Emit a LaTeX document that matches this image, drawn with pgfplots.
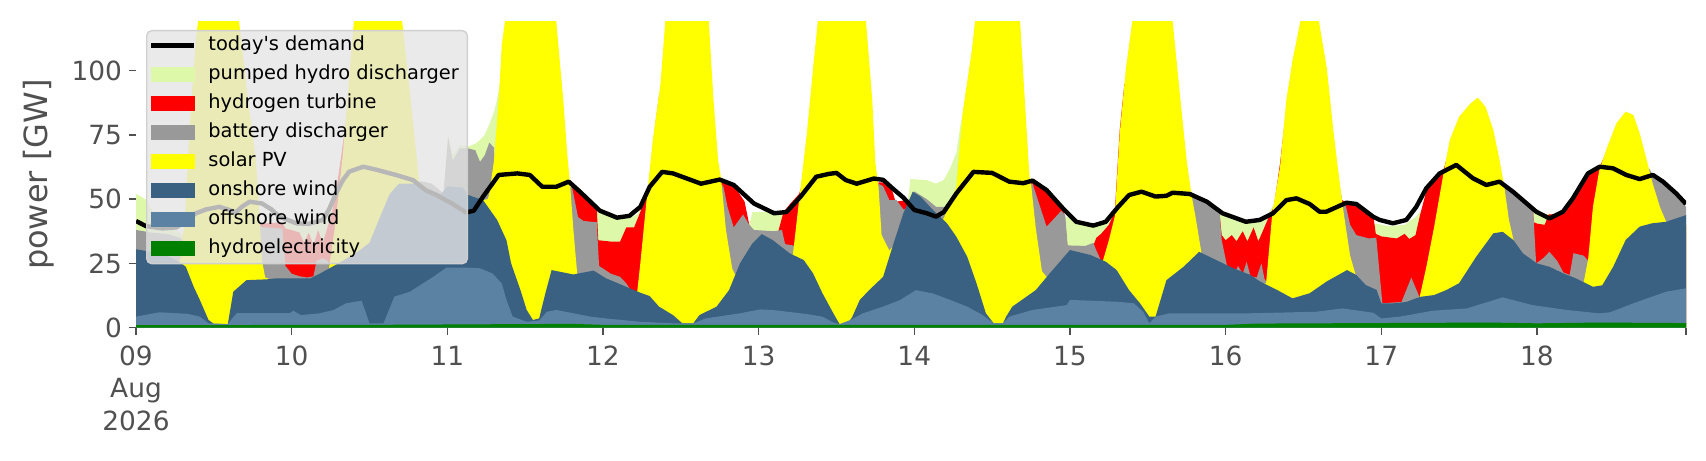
\documentclass[border=0pt]{standalone}
\usepackage{fontspec}
\setmainfont{DejaVu Sans}
\usepackage{pgfplots}
\pgfplotsset{compat=1.18}
\definecolor{cPHS}{RGB}{220,248,168}
\definecolor{cH2}{RGB}{255,0,0}
\definecolor{cBAT}{RGB}{153,153,153}
\definecolor{cPV}{RGB}{255,255,0}
\definecolor{cON}{RGB}{59,97,130}
\definecolor{cOFF}{RGB}{91,130,163}
\definecolor{cHYD}{RGB}{0,128,0}
\definecolor{txtgray}{RGB}{80,80,80}
\definecolor{leggray}{RGB}{229,229,229}
\definecolor{legedge}{RGB}{208,208,208}
\begin{document}
\begin{tikzpicture}
\useasboundingbox (0,0) rectangle (853pt,230pt);
\begin{axis}[
  at={(68pt,66.15pt)}, anchor=south west,
  width=775pt, height=153pt, scale only axis,
  xmin=0, xmax=9.958, ymin=0, ymax=119,
  axis line style={draw=none},
  xtick={0,1,2,3,4,5,6,7,8,9,9.958},
  xticklabels={{09\\Aug\\2026},10,11,12,13,14,15,16,17,18,{}},
  ytick={0,25,50,75,100},
  tick align=outside, xtick pos=left, ytick pos=left,
  major tick length=3.5pt,
  tick style={draw=txtgray, line width=0.7pt},
  tick label style={font=\fontsize{13.2}{16.2}\selectfont, color=txtgray},
  xticklabel style={align=center, yshift=-2pt},
  /pgf/number format/assume math mode=true,
  ylabel={power [GW]},
  every axis y label/.style={at={(axis description cs:-0.0629,0.5)}, rotate=90, anchor=center, font=\fontsize{16}{19}\selectfont, color=txtgray},
  legend cell align=left,
  legend style={at={(axis description cs:0.00645,0.973)}, anchor=north west,
    fill=leggray, fill opacity=0.8, draw=legedge, draw opacity=1, text opacity=1,
    rounded corners=2.5pt, line width=0.7pt,
    font=\fontsize{9.7}{11}\selectfont,
    inner xsep=1pt, inner ysep=3pt, row sep=5.5pt,
    nodes={inner xsep=3.25pt, inner ysep=0pt, text height=7pt, text depth=2pt}},
]
\addlegendimage{legend image code/.code={\draw[black, line width=2.5pt, draw opacity=1, sharp corners] (0pt,0pt) -- (21.5pt,0pt); \path (25pt,0pt);}}
\addlegendentry{today\textquotesingle s demand}
\addlegendimage{legend image code/.code={\fill[cPHS, fill opacity=1, sharp corners] (0pt,-3.5pt) rectangle (21.5pt,3.5pt); \path (25pt,0pt);}}
\addlegendentry{pumped hydro discharger}
\addlegendimage{legend image code/.code={\fill[cH2, fill opacity=1, sharp corners] (0pt,-3.5pt) rectangle (21.5pt,3.5pt); \path (25pt,0pt);}}
\addlegendentry{hydrogen turbine}
\addlegendimage{legend image code/.code={\fill[cBAT, fill opacity=1, sharp corners] (0pt,-3.5pt) rectangle (21.5pt,3.5pt); \path (25pt,0pt);}}
\addlegendentry{battery discharger}
\addlegendimage{legend image code/.code={\fill[cPV, fill opacity=1, sharp corners] (0pt,-3.5pt) rectangle (21.5pt,3.5pt); \path (25pt,0pt);}}
\addlegendentry{solar PV}
\addlegendimage{legend image code/.code={\fill[cON, fill opacity=1, sharp corners] (0pt,-3.5pt) rectangle (21.5pt,3.5pt); \path (25pt,0pt);}}
\addlegendentry{onshore wind}
\addlegendimage{legend image code/.code={\fill[cOFF, fill opacity=1, sharp corners] (0pt,-3.5pt) rectangle (21.5pt,3.5pt); \path (25pt,0pt);}}
\addlegendentry{offshore wind}
\addlegendimage{legend image code/.code={\fill[cHYD, fill opacity=1, sharp corners] (0pt,-3.5pt) rectangle (21.5pt,3.5pt); \path (25pt,0pt);}}
\addlegendentry{hydroelectricity}

% pumped hydro discharger (cumulative top)
\addplot[fill=cPHS, draw=none, forget plot] coordinates {
(0,52) (0.06,50) (0.12,44) (0.2,40) (0.27,37.5) (0.3,36) (0.5,30) (0.78,30) (0.94,40) (0.96,41) (1.05,41) (1.15,41) (1.22,42) (1.26,46) (1.28,50) (1.31,58) (1.4,50) (1.9,50) (1.975,52) (2.005,75) (2.035,67) (2.08,71) (2.134,70.5) (2.18,71.5) (2.21,73) (2.24,75) (2.27,79) (2.30,84) (2.317,88) (2.333,93) (2.345,100) (2.36,108) (2.5,40) (2.96,45) (2.975,44.5) (3.05,44) (3.11,43) (3.18,43) (3.22,44) (3.24,46) (3.26,48) (3.3,45) (3.5,40) (3.94,40) (3.96,45) (4.05,45) (4.14,45.5) (4.16,44) (4.3,40) (4.6,40) (4.95,45) (4.975,57.8) (5.08,57.4) (5.14,56) (5.19,57.5) (5.23,62) (5.27,68) (5.30,80) (5.33,88) (5.5,40) (5.96,43) (5.985,43) (6.04,41.5) (6.15,40) (6.23,41.5) (6.26,44) (6.29,43) (6.5,40) (6.95,40) (6.962,44.5) (7.05,42.5) (7.14,40.6) (7.22,41.2) (7.26,43) (7.31,48) (7.35,55) (7.5,40) (7.95,40) (7.965,40.5) (8.05,39.5) (8.15,40) (8.22,43) (8.25,45) (8.27,46) (8.30,45) (8.6,40) (8.97,40) (8.975,46) (9.0,45) (9.05,43.5) (9.08,44.5) (9.10,42) (9.5,40) (9.958,40)
} \closedcycle;
% hydrogen turbine
\addplot[fill=cH2, draw=none, forget plot] coordinates {
(0,37) (0.29,27) (0.5,30) (0.78,40) (0.81,40.5) (0.94,41) (0.96,38.5) (1.0,38) (1.05,37) (1.08,33) (1.11,37) (1.14,32) (1.17,38) (1.2,33) (1.23,39) (1.26,45) (1.29,55) (1.33,72) (1.36,85) (1.5,40) (2.0,45) (2.5,40) (2.78,52) (2.80,56) (2.84,53.5) (2.875,51) (2.96,46.5) (2.97,34) (3.05,33.5) (3.11,33.5) (3.15,39) (3.20,39) (3.24,45) (3.28,53) (3.30,56) (3.33,76) (3.36,90) (3.5,40) (3.75,55) (3.77,57.5) (3.84,55.5) (3.91,49) (3.94,40) (3.97,37) (4.12,36) (4.16,45) (4.20,48) (4.26,52) (4.30,60) (4.5,40) (4.76,50) (4.77,56.5) (4.80,56.5) (4.84,55.5) (4.86,53) (4.88,49) (5.0,50) (5.2,45) (5.4,40) (5.74,55) (5.755,57) (5.85,53.5) (5.945,47) (5.965,44) (5.985,31) (6.15,32) (6.17,35) (6.2,36.5) (6.25,40) (6.288,45) (6.32,77) (6.35,95) (6.5,40) (6.77,50) (6.962,44) (6.975,36) (7.0,34) (7.04,36) (7.07,33.6) (7.11,37.5) (7.14,33.6) (7.18,39) (7.21,33.6) (7.235,37) (7.27,42) (7.31,47) (7.35,64) (7.38,80) (7.5,40) (7.74,50) (7.765,49) (7.84,48) (7.90,45.5) (7.95,43) (7.965,36.5) (8.0,35.5) (8.1,34.7) (8.15,36.5) (8.18,34.5) (8.22,36) (8.25,44) (8.289,53) (8.34,57.5) (8.396,60.5) (8.44,70) (8.6,40) (8.77,55) (8.975,46) (8.98,41) (9.0,40.5) (9.05,40) (9.075,44) (9.167,44.5) (9.231,49.5) (9.328,59.5) (9.40,62) (9.45,69) (9.6,40) (9.958,40)
} \closedcycle;
% battery discharger
\addplot[fill=cBAT, draw=none, forget plot] coordinates {
(0,38) (0.1,37) (0.2,36.5) (0.28,35) (0.30,34) (0.5,20) (0.76,40) (0.79,40) (0.81,39) (0.83,39) (0.94,38.5) (0.96,24) (1.0,21) (1.05,20) (1.10,19.5) (1.14,20) (1.16,26) (1.2,27) (1.23,26) (1.25,24) (1.28,24) (1.3,20) (1.7,50) (1.83,57) (1.9,56) (1.96,53) (1.975,52) (2.005,74) (2.035,65) (2.08,69.7) (2.134,69.7) (2.18,69) (2.21,64.5) (2.24,67) (2.27,72) (2.30,70) (2.32,50) (2.5,30) (2.76,50) (2.79,54.5) (2.80,55) (2.84,43) (2.875,41.5) (2.96,41) (2.975,24) (3.05,21) (3.11,19.8) (3.15,17.2) (3.19,13.5) (3.3,10) (3.6,10) (3.75,50) (3.77,56) (3.80,47) (3.84,39) (3.90,44) (3.94,40) (3.97,38) (4.1,37.5) (4.15,38) (4.17,32.5) (4.22,32) (4.26,31) (4.4,20) (4.6,20) (4.76,50) (4.77,56) (4.80,55) (4.84,49.6) (4.886,49.6) (4.93,46) (4.95,46) (5.0,53) (5.08,50) (5.14,47) (5.2,47) (5.24,46) (5.3,40) (5.6,30) (5.74,56) (5.76,56) (5.85,39.3) (5.945,45.5) (5.97,43.5) (5.985,32) (6.1,31.8) (6.15,33) (6.17,30) (6.2,26) (6.3,20) (6.6,20) (6.76,55) (6.78,52.5) (6.85,50) (6.92,47) (6.962,44) (6.975,34) (7.02,21) (7.05,20) (7.08,24) (7.11,21) (7.135,25.6) (7.16,20) (7.20,19.5) (7.23,25) (7.25,19) (7.27,17) (7.4,10) (7.6,20) (7.72,60) (7.75,49) (7.77,48) (7.80,40) (7.84,36) (7.92,34.7) (7.968,35) (8.007,9.5) (8.13,10) (8.193,19.5) (8.245,12) (8.3,10) (8.6,20) (8.76,60) (8.79,56) (8.846,52.5) (8.92,49.5) (8.975,46.5) (8.995,25) (9.04,27) (9.08,29.5) (9.13,26) (9.17,21.5) (9.21,20.5) (9.235,29) (9.30,28) (9.33,26) (9.36,30) (9.5,20) (9.72,62) (9.745,59.5) (9.81,56) (9.895,51.5) (9.958,47)
} \closedcycle;
% solar PV
\addplot[fill=cPV, draw=none, forget plot] coordinates {
(0,27) (0.2,24) (0.27,25.5) (0.283,26) (0.315,43) (0.336,69) (0.36,92) (0.385,112) (0.41,125) (0.5,140) (0.58,140) (0.65,125) (0.68,110) (0.72,88) (0.75,75) (0.77,65) (0.785,52) (0.797,39) (0.81,26) (0.83,19.5) (1.0,16) (1.15,17) (1.24,23) (1.28,40) (1.33,68) (1.38,105) (1.40,119) (1.41,125) (1.55,140) (1.70,125) (1.71,119) (1.755,94) (1.80,68) (1.82,56) (1.845,52) (1.95,48) (2.1,48) (2.26,50) (2.27,52) (2.30,65) (2.333,91) (2.35,110) (2.37,119) (2.38,125) (2.5,140) (2.69,125) (2.70,119) (2.745,88.5) (2.77,67.8) (2.79,54.8) (2.81,38) (2.835,20.6) (3.0,17) (3.15,13) (3.22,14) (3.24,25) (3.28,49.6) (3.32,73) (3.37,95) (3.40,119) (3.41,125) (3.55,140) (3.67,125) (3.68,119) (3.71,88.5) (3.74,65) (3.76,57.4) (3.79,38) (3.83,23) (3.85,20.5) (3.95,28) (4.1,30) (4.22,28.3) (4.26,49.6) (4.31,75.6) (4.35,101) (4.38,119) (4.39,125) (4.55,140) (4.68,125) (4.69,119) (4.73,88.5) (4.75,64) (4.77,55) (4.79,36) (4.84,30) (4.86,31.5) (5.0,45) (5.1,40) (5.185,42) (5.23,48) (5.27,54.8) (5.31,83.3) (5.37,108) (5.39,119) (5.40,125) (5.55,140) (5.67,125) (5.68,119) (5.71,88.5) (5.74,58.7) (5.75,56) (5.78,39) (5.82,22) (5.85,19.7) (6.0,27) (6.15,25) (6.213,26.3) (6.25,34) (6.288,43.2) (6.32,75.6) (6.36,101) (6.40,119) (6.41,125) (6.55,140) (6.65,125) (6.66,119) (6.71,88.5) (6.75,65) (6.78,52) (6.81,42) (6.845,29) (7.0,18) (7.15,17) (7.26,17.2) (7.30,44.5) (7.35,62.6) (7.39,88.5) (7.43,104) (7.48,119) (7.49,125) (7.54,135) (7.59,125) (7.60,119) (7.65,101) (7.69,78) (7.72,62.6) (7.75,48.3) (7.77,40) (7.80,28) (7.835,20.6) (8.0,7) (8.15,8) (8.247,12) (8.29,23.7) (8.34,39.3) (8.40,60) (8.44,73) (8.50,82) (8.57,87) (8.62,89.5) (8.67,85.9) (8.72,76.9) (8.76,65.2) (8.79,55) (8.82,42) (8.85,34) (8.87,31) (9.0,22) (9.2,18) (9.30,17.5) (9.33,27) (9.36,47) (9.40,61) (9.45,70) (9.51,79.4) (9.57,84) (9.62,82.7) (9.66,75.6) (9.70,66.5) (9.74,56.8) (9.79,47) (9.83,41.2) (9.958,40)
} \closedcycle;
% onshore wind
\addplot[fill=cON, draw=none, forget plot] coordinates {
(0,30.5) (0.1,29.5) (0.2,28) (0.28,25.5) (0.32,23.7) (0.37,16) (0.41,10.8) (0.466,3) (0.50,1.5) (0.59,1.4) (0.625,14) (0.71,18.5) (0.84,18.8) (0.90,19.2) (1.12,19.2) (1.18,21) (1.3,25) (1.41,28.9) (1.5,33) (1.54,39) (1.63,52) (1.69,56) (1.80,56) (1.88,53.5) (1.96,52) (2.0,55) (2.10,54.5) (2.134,51.6) (2.23,49.6) (2.32,41.9) (2.38,34) (2.41,25) (2.47,14.6) (2.51,6.9) (2.55,3) (2.59,3.6) (2.63,13.4) (2.67,22.4) (2.72,21.8) (2.81,20.7) (2.94,22.2) (3.02,19.2) (3.15,15.9) (3.24,13.6) (3.30,12.3) (3.36,8.2) (3.45,4.9) (3.51,1.7) (3.58,1.7) (3.62,4.9) (3.73,8.2) (3.81,14.6) (3.88,25) (3.96,32.8) (4.02,36.4) (4.09,34.1) (4.20,28.9) (4.29,26.3) (4.35,21.1) (4.41,13.4) (4.48,5.6) (4.52,1.4) (4.57,1.5) (4.60,4) (4.65,10.8) (4.71,14.6) (4.80,19.8) (4.86,31.5) (4.93,44.5) (4.99,52.9) (5.04,51) (5.12,45.8) (5.21,40.6) (5.27,35.4) (5.34,27.6) (5.40,17.2) (5.46,5.6) (5.51,1.7) (5.57,1.7) (5.59,4.3) (5.63,8.2) (5.78,14.6) (5.87,21.1) (6.0,30.2) (6.13,28.3) (6.23,25.7) (6.30,22.4) (6.38,14.6) (6.45,9.5) (6.51,4.3) (6.55,4.3) (6.62,18.5) (6.73,23.7) (6.83,29.5) (6.94,26.3) (7.05,23.1) (7.16,20.5) (7.22,18) (7.33,14.7) (7.43,11.4) (7.54,13.4) (7.65,18) (7.78,22.4) (7.84,20.5) (7.90,16.6) (7.97,14.7) (8.0,9.5) (8.08,9.5) (8.16,10) (8.25,12) (8.34,12.7) (8.42,14.7) (8.50,17.3) (8.61,27.6) (8.72,36.7) (8.78,37.3) (8.85,34) (8.91,28.9) (9.0,25) (9.08,23.7) (9.17,21.1) (9.25,19.2) (9.36,15.9) (9.42,16.5) (9.49,23.7) (9.57,34.1) (9.66,39.3) (9.74,40.6) (9.83,41.2) (9.958,43.8)
} \closedcycle;
% offshore wind
\addplot[fill=cOFF, draw=none, forget plot] coordinates {
(0,4.3) (0.15,6) (0.33,5.4) (0.41,4.3) (0.466,1.7) (0.59,1.4) (0.63,4.5) (0.65,5.7) (0.99,5.7) (1.01,6.6) (1.06,4.9) (1.18,5.6) (1.27,6.9) (1.35,9.5) (1.45,10.5) (1.50,1.7) (1.59,1.7) (1.66,12.1) (1.76,14) (1.91,19.8) (1.995,23.4) (2.12,23.4) (2.21,23.1) (2.29,21.1) (2.35,17.2) (2.38,10.8) (2.42,4.3) (2.51,2.3) (2.59,2.8) (2.64,6.2) (2.70,6.9) (2.81,5.6) (2.92,4.3) (3.02,3.6) (3.24,2.3) (3.45,1.7) (3.58,1.7) (3.66,3.6) (3.88,5.6) (4.01,7.1) (4.09,6.9) (4.31,5.3) (4.41,4.3) (4.48,2) (4.52,1.4) (4.59,3) (4.67,5.6) (4.80,8.2) (4.91,10.8) (5.01,14.6) (5.12,13.3) (5.23,10.8) (5.34,8.2) (5.44,4.9) (5.51,1.7) (5.57,1.7) (5.61,4.3) (5.76,6.9) (5.98,8.8) (6.0,10.8) (6.3,10.1) (6.41,9.5) (6.47,6.2) (6.51,1.7) (6.55,4.3) (6.64,5.6) (6.94,5.6) (7.155,5.6) (7.58,6.2) (7.75,7.5) (7.95,5.8) (8.0,3.6) (8.12,4.3) (8.33,6.6) (8.55,7.5) (8.78,11.8) (8.97,8.8) (9.19,6.9) (9.40,5.6) (9.47,6) (9.62,9.5) (9.83,14) (9.958,15.3)
} \closedcycle;
% hydroelectricity
\addplot[fill=cHYD, draw=none, forget plot] coordinates {
(0,1.0) (1.5,1.1) (2.8,1.5) (3.0,1.1) (7.0,1.1) (7.2,1.6) (8.7,2.0) (9.0,1.7) (9.4,2.0) (9.958,1.8)
} \closedcycle;
% today's demand
\addplot[black, line width=2.2pt, line join=round, forget plot] coordinates {
(0,41.5) (0.064,39.5) (0.17,38.6) (0.26,39) (0.32,41.5) (0.385,44.5) (0.45,46) (0.535,47) (0.59,46) (0.64,44.8) (0.68,47) (0.73,49) (0.81,48.3) (0.87,46) (0.92,43.2) (1.03,40.6) (1.11,40.4) (1.2,41.9) (1.24,46) (1.285,52.2) (1.33,57.5) (1.37,60.7) (1.46,62.6) (1.54,61.5) (1.67,59.4) (1.78,57.4) (1.86,53.5) (1.93,51.6) (2.03,48.3) (2.12,44.8) (2.17,45.5) (2.23,51) (2.33,59.4) (2.45,60) (2.53,59.4) (2.61,54.8) (2.70,54.8) (2.78,56.8) (2.85,53) (2.98,45.5) (3.09,42.8) (3.17,43.5) (3.24,47) (3.30,54.8) (3.38,60.6) (3.45,60) (3.54,58) (3.63,56) (3.75,57.6) (3.84,55.5) (3.97,48.3) (4.10,44.5) (4.18,45) (4.27,51) (4.37,58.7) (4.45,59.8) (4.50,60.2) (4.56,57.4) (4.63,56) (4.74,58) (4.80,57.5) (4.86,54.2) (4.93,50.6) (5.0,45.8) (5.08,44.5) (5.14,43.2) (5.19,45) (5.27,52.2) (5.38,60.6) (5.50,60.2) (5.61,56.8) (5.70,56.2) (5.76,57.2) (5.85,53.5) (5.955,46.4) (6.04,41.2) (6.15,39.7) (6.23,41.2) (6.31,47) (6.38,51.6) (6.46,52.9) (6.55,51) (6.62,51.3) (6.66,52.5) (6.77,52) (6.88,49) (6.98,44.5) (7.13,41.2) (7.219,41.9) (7.305,44.5) (7.39,49.6) (7.455,50.3) (7.54,48.1) (7.604,45.1) (7.647,45.1) (7.776,48.6) (7.84,48.1) (7.947,43.2) (7.99,41.9) (8.075,40.6) (8.161,41.9) (8.225,47) (8.289,54.2) (8.375,60) (8.482,63.3) (8.589,58.1) (8.675,55.5) (8.76,56.8) (8.846,52.9) (8.996,45.1) (9.081,42.5) (9.167,45.1) (9.231,50.3) (9.328,60) (9.403,62.6) (9.488,62) (9.574,59.4) (9.66,57.8) (9.745,59.4) (9.81,56.8) (9.895,52.2) (9.958,48.1)
};
\end{axis}
\end{tikzpicture}
\end{document}
